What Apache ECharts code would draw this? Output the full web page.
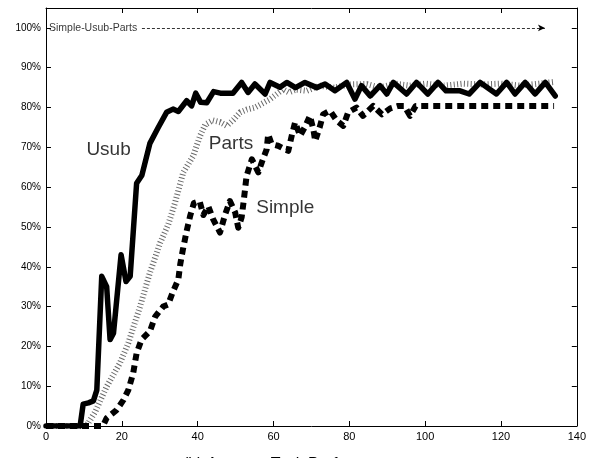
<!DOCTYPE html>
<html>
<head>
<meta charset="utf-8">
<script src="https://cdn.jsdelivr.net/npm/echarts@6/dist/echarts.min.js"></script>
<style>
html,body{margin:0;padding:0;background:#fff;}
#c{width:589px;height:458px;}
</style>
</head>
<body>
<div id="c"></div>
<script>
// x ticks / y ticks
var xTicks = [0, 20, 40, 60, 80, 100, 120, 140];
var yTicks = [0, 10, 20, 30, 40, 50, 60, 70, 80, 90, 100];

// Series values: [x, percent]
var usub = [[0,0],[9,0],[9.8,5.5],[11.2,5.8],[12.5,6.3],[13.4,9],[14.7,37.6],[16,35],[16.9,21.7],[17.8,23.3],[19.8,43],[21.1,36.3],[22.2,37.6],[23.9,61],[25.3,63],[27.4,71],[29.6,75],[31.8,78.8],[33.5,79.6],[34.9,79],[37.1,81.7],[38.4,80.4],[39.5,83.6],[40.8,81.3],[42.4,81.2],[44.2,84],[46,83.6],[49.3,83.6],[51.6,86.3],[53.3,83.8],[55.1,85.9],[57.8,83.4],[59.1,86.3],[61.7,85.1],[63.5,86.3],[65.8,85],[68.3,86.3],[71.4,85],[73.6,85.9],[76.2,84.2],[79.3,86.3],[81.5,82.1],[83.2,85.5],[85.5,82.9],[88.1,85.5],[89.9,83.4],[91.6,86.3],[95.1,83.4],[97.7,86.3],[100.7,83.4],[103.4,86.3],[105.5,84.2],[109.2,84.2],[111.6,83.4],[114.5,86.3],[118.8,83.4],[121.5,86.3],[123.7,83.4],[126.4,86.3],[129,83.4],[131.7,86.3],[134.3,82.9]];

var parts = [[0,0],[10,0],[11,0.5],[13,3.6],[16,9.9],[19.5,15.8],[21.7,20.8],[24.8,30],[27.4,38.5],[30.1,46],[32.2,50.5],[34,56],[36.2,63.7],[38.8,67.8],[40.6,72.8],[42,75.7],[44,76.8],[46,76.3],[47.7,75.4],[49.5,77],[51.2,78.8],[53,79.5],[55.1,80],[57,81],[59.1,82.1],[61,83.5],[62.5,84.6],[64,83.8],[66,84.5],[68.8,84.2],[72,85.5],[76,85],[80,85.8],[84.6,85.9],[88,85],[92,86],[96,85.5],[100,86],[105,85.5],[110,86],[115,85.8],[120,86],[125,85.5],[130,86],[133.7,86.4]];

var simple = [[0,0],[15,0],[16,2],[18.6,4],[20.4,6.5],[21.7,9],[23,13.3],[23.9,18.3],[25.2,21.7],[27.4,23.8],[28.8,27.5],[30.9,30],[32.2,30.5],[33.5,33.8],[34.9,36.8],[35.4,40.6],[36.1,44.3],[37.1,49],[38,52.7],[39,56],[40.5,56.5],[41.5,53],[42.8,55.2],[44.1,51.9],[45.9,48.6],[47.2,53],[48.5,56.5],[49.9,53.6],[50.7,49.8],[51.6,52.4],[52.2,57],[52.9,62.8],[54.3,67],[56,63.7],[56.9,66.2],[58.2,69.5],[58.6,73.3],[59.5,70.8],[61.2,70.4],[63.9,69.1],[64.8,72.9],[65.7,76.3],[67,72.9],[68.3,75.1],[69.6,77.9],[70.5,74.6],[71,71.6],[72.2,75.1],[73.1,78.3],[74.9,79.2],[76.7,76.7],[78.4,75.4],[79.7,78.8],[81.9,80],[83.6,77.9],[86.3,80.4],[88.6,78.3],[90.8,79.8],[92.9,80.4],[94.5,80.4],[96,77.9],[97.5,80.4],[100,80.4],[134,80.4]];

// series name labels
var seriesLabels = [{name:'Usub', value:[16.5,69.5]},{name:'Parts', value:[48.8,71]},{name:'Simple', value:[63.1,54.9]}];
var orderText = 'Simple-Usub-Parts';
var orderTextPos = [0.8, 100];
var arrowStart = [25.3, 100];
var arrowEnd = [131.6, 100];
var caption = '(b) Average Task Performance';

var FONT = 'Liberation Sans, Arial, Helvetica, sans-serif';
var chart = echarts.init(document.getElementById('c'), null, {renderer:'canvas'});

var axisCommon = {
  type:'value', min:0, splitLine:{show:false},
  axisLine:{show:true, onZero:false, lineStyle:{color:'#000', width:1}},
  axisTick:{show:true, inside:true, length:5, lineStyle:{color:'#000'}}
};

chart.setOption({
  animation:false,
  backgroundColor:'#fff',
  title:{text:caption, left:178, top:452, textStyle:{fontFamily:FONT, fontSize:16, fontWeight:'normal', color:'#000'}},
  grid:{left:46, right:12, top:8, bottom:32, containLabel:false},
  xAxis:[
    Object.assign({}, axisCommon, {position:'bottom', max:140, interval:20,
      axisLabel:{show:true, margin:5, fontFamily:FONT, fontSize:11, color:'#000'}}),
    Object.assign({}, axisCommon, {position:'top', max:140, interval:20, axisLabel:{show:false}})
  ],
  yAxis:[
    Object.assign({}, axisCommon, {position:'left', max:105, interval:10,
      axisLabel:{show:true, margin:5, fontFamily:FONT, fontSize:10, color:'#000',
        formatter:function(v){ return yTicks.indexOf(v) >= 0 ? v + '%' : ''; }}}),
    Object.assign({}, axisCommon, {position:'right', max:105, interval:10, axisLabel:{show:false}})
  ],
  series:[
    {name:'Parts', type:'line', data:parts, showSymbol:false, smooth:false,
      lineStyle:{color:'#6a6a6a', width:6, type:[1,2.4], cap:'butt'}, z:2},
    {name:'Simple', type:'line', data:simple, showSymbol:false,
      lineStyle:{color:'#000', width:6, type:[7,5], cap:'butt', join:'round'}, z:3},
    {name:'Usub', type:'line', data:usub, showSymbol:false,
      lineStyle:{color:'#000', width:5.5, join:'round', cap:'round'}, z:4,
      markLine:{silent:true, symbol:['none','arrow'], symbolSize:[5,7], animation:false,
        lineStyle:{color:'#000', width:0.8, type:[3,2]}, label:{show:false},
        data:[[{coord:arrowStart},{coord:arrowEnd}]]}},
    {name:'labels', type:'scatter', symbolSize:0, data:seriesLabels, z:5, silent:true,
      label:{show:true, position:'inside', formatter:'{b}', fontFamily:FONT, fontSize:19, color:'#000'}},
    {name:'order', type:'scatter', symbolSize:0, data:[{name:orderText, value:orderTextPos}], z:5, silent:true,
      label:{show:true, position:'right', distance:0, formatter:'{b}', fontFamily:FONT, fontSize:10.5, color:'#000'}}
  ]
});
</script>
</body>
</html>
